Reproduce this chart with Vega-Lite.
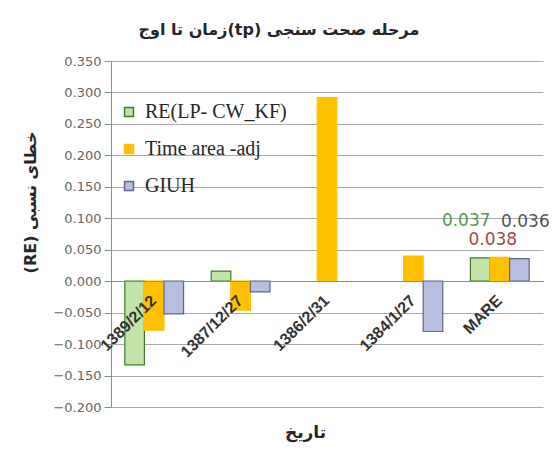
{
  "$schema": "https://vega.github.io/schema/vega-lite/v6.json",
  "width": 432,
  "height": 346,
  "autosize": {"type": "none"},
  "padding": {"left": 111, "top": 61, "right": 16, "bottom": 57},
  "background": "white",
  "config": {"view": {"stroke": null}, "font": "DejaVu Sans"},
  "title": {
    "text": "زمان تا اوج(tp) مرحله صحت سنجی",
    "font": "DejaVu Sans",
    "fontSize": 16,
    "fontWeight": "bold",
    "color": "#262626",
    "anchor": "middle",
    "dx": -48,
    "offset": 17
  },
  "data": {
    "values": [
      {"date": "1389/2/12", "series": "RE(LP- CW_KF)", "value": -0.133},
      {"date": "1389/2/12", "series": "Time area -adj", "value": -0.078},
      {"date": "1389/2/12", "series": "GIUH", "value": -0.052},
      {"date": "1387/12/27", "series": "RE(LP- CW_KF)", "value": 0.016},
      {"date": "1387/12/27", "series": "Time area -adj", "value": -0.046},
      {"date": "1387/12/27", "series": "GIUH", "value": -0.017},
      {"date": "1386/2/31", "series": "Time area -adj", "value": 0.292},
      {"date": "1384/1/27", "series": "Time area -adj", "value": 0.040},
      {"date": "1384/1/27", "series": "GIUH", "value": -0.080},
      {"date": "MARE", "series": "RE(LP- CW_KF)", "value": 0.037},
      {"date": "MARE", "series": "Time area -adj", "value": 0.038},
      {"date": "MARE", "series": "GIUH", "value": 0.036}
    ]
  },
  "encoding": {
    "x": {
      "field": "date",
      "type": "nominal",
      "sort": ["1389/2/12", "1387/12/27", "1386/2/31", "1384/1/27", "MARE"],
      "scale": {"paddingInner": 0.32, "paddingOuter": 0.16},
      "title": "تاریخ",
      "axis": {
        "offset": -126,
        "zindex": 1,
        "labelAngle": -45,
        "labelFont": "Liberation Sans",
        "labelFontWeight": "bold",
        "labelFontSize": 16,
        "labelColor": "#333333",
        "labelPadding": 11,
        "labelOffset": -6,
        "ticks": false,
        "domainColor": "#8c8c8c",
        "titleX": 194,
        "titleY": 151,
        "titleAlign": "center",
        "titleBaseline": "middle",
        "titleFont": "DejaVu Sans",
        "titleFontSize": 17,
        "titleFontWeight": "bold",
        "titleColor": "#262626"
      }
    },
    "xOffset": {
      "field": "series",
      "type": "nominal",
      "sort": ["RE(LP- CW_KF)", "Time area -adj", "GIUH"]
    },
    "y": {
      "field": "value",
      "type": "quantitative",
      "scale": {"domain": [-0.2, 0.35], "nice": false, "zero": false},
      "title": "(RE) خطای نسبی",
      "axis": {
        "values": [-0.2, -0.15, -0.1, -0.05, 0, 0.05, 0.1, 0.15, 0.2, 0.25, 0.3, 0.35],
        "format": ".3f",
        "labelFont": "DejaVu Sans",
        "labelFontSize": 13,
        "labelColor": "#666666",
        "labelPadding": 3,
        "tickSize": 7,
        "tickColor": "#8c8c8c",
        "domainColor": "#8c8c8c",
        "gridColor": "#a8a8a8",
        "titleX": -81,
        "titleY": 141,
        "titleAngle": -90,
        "titleAlign": "center",
        "titleBaseline": "middle",
        "titleFont": "DejaVu Sans",
        "titleFontSize": 16,
        "titleFontWeight": "bold",
        "titleColor": "#262626"
      }
    }
  },
  "layer": [
    {
      "mark": {"type": "bar", "strokeWidth": 1.2},
      "encoding": {
        "color": {
          "field": "series",
          "type": "nominal",
          "scale": {
            "domain": ["RE(LP- CW_KF)", "Time area -adj", "GIUH"],
            "range": ["#c2e4a8", "#ffc000", "#b8bee0"]
          },
          "legend": {
            "orient": "none",
            "legendX": 8,
            "legendY": 41,
            "title": null,
            "symbolType": "square",
            "symbolSize": 80,
            "symbolStrokeWidth": 1.5,
            "labelFont": "Liberation Serif",
            "labelFontSize": 20,
            "labelColor": "#262626",
            "labelOffset": 6,
            "rowPadding": 17,
            "padding": 0
          }
        },
        "stroke": {
          "field": "series",
          "type": "nominal",
          "scale": {
            "domain": ["RE(LP- CW_KF)", "Time area -adj", "GIUH"],
            "range": ["#3f7a2a", "#ffc000", "#5f6688"]
          },
          "legend": {
            "orient": "none",
            "legendX": 8,
            "legendY": 41,
            "title": null,
            "symbolType": "square",
            "symbolSize": 80,
            "symbolStrokeWidth": 1.5,
            "labelFont": "Liberation Serif",
            "labelFontSize": 20,
            "labelColor": "#262626",
            "labelOffset": 6,
            "rowPadding": 17,
            "padding": 0
          }
        }
      }
    },
    {
      "transform": [{"filter": "datum.date === 'MARE' && datum.series === 'RE(LP- CW_KF)'"}],
      "mark": {"type": "text", "dx": -14, "dy": -37, "color": "#4f9a4f", "fontSize": 17, "font": "DejaVu Sans", "baseline": "middle"},
      "encoding": {"text": {"field": "value", "type": "quantitative", "format": ".3f"}}
    },
    {
      "transform": [{"filter": "datum.date === 'MARE' && datum.series === 'Time area -adj'"}],
      "mark": {"type": "text", "dx": -7, "dy": -17, "color": "#a04a48", "fontSize": 17, "font": "DejaVu Sans", "baseline": "middle"},
      "encoding": {"text": {"field": "value", "type": "quantitative", "format": ".3f"}}
    },
    {
      "transform": [{"filter": "datum.date === 'MARE' && datum.series === 'GIUH'"}],
      "mark": {"type": "text", "dx": 6, "dy": -37, "color": "#555555", "fontSize": 17, "font": "DejaVu Sans", "baseline": "middle"},
      "encoding": {"text": {"field": "value", "type": "quantitative", "format": ".3f"}}
    }
  ]
}
